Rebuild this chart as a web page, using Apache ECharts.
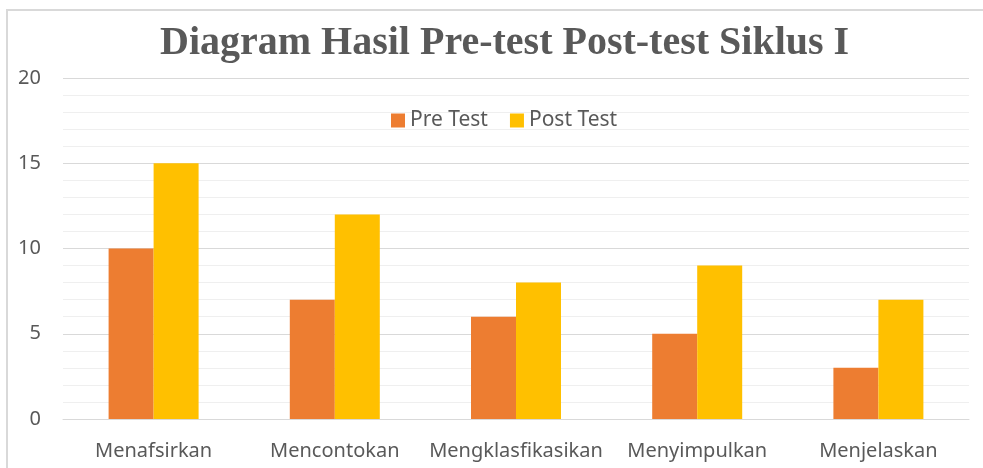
<!DOCTYPE html>
<html><head><meta charset="utf-8">
<script src="https://cdn.jsdelivr.net/npm/echarts@6/dist/echarts.min.js"></script>
<style>html,body{margin:0;padding:0;background:#fff}#c{width:983px;height:468px}</style>
</head><body><div id="c"></div>
<script>
const categories = ['Menafsirkan','Mencontokan','Mengklasfikasikan','Menyimpulkan','Menjelaskan'];
const preTest = [10, 7, 6, 5, 3];
const postTest = [15, 12, 8, 9, 7];
const seriesNames = ['Pre Test','Post Test'];
const yMin = 0, yMax = 20, yStep = 5;

const chart = echarts.init(document.getElementById('c'), null, {renderer:'canvas'});
chart.setOption({
  animation:false,
  backgroundColor:'#fff',
  graphic:[{type:'rect', shape:{x:7,y:10,width:1100,height:600}, style:{fill:'none', stroke:'#d9d9d9', lineWidth:2}, silent:true}],
  title:{text:'Diagram Hasil Pre-test Post-test Siklus I', left:155, top:19,
    textStyle:{fontFamily:'Liberation Serif', fontWeight:'bold', fontSize:40, color:'#595959'}},
  legend:{data:seriesNames, top:105, left:386, itemWidth:14, itemHeight:14, itemGap:22,
    icon:'rect', textStyle:{fontFamily:'Noto Sans', fontSize:21, color:'#595959'}},
  grid:{left:63, right:14, top:78, bottom:49, containLabel:false},
  xAxis:{type:'category', data:categories,
    axisLine:{lineStyle:{color:'#d9d9d9'}}, axisTick:{show:false},
    axisLabel:{interval:0, fontFamily:'Noto Sans', fontSize:20, color:'#595959', margin:22}},
  yAxis:{type:'value', min:yMin, max:yMax, interval:yStep,
    axisLine:{show:false}, axisTick:{show:false},
    axisLabel:{fontFamily:'Noto Sans', fontSize:20, color:'#595959', margin:22},
    splitLine:{lineStyle:{color:'#d9d9d9', width:1}},
    minorTick:{show:false, splitNumber:5},
    minorSplitLine:{show:true, lineStyle:{color:'#efefef', width:1}}},
  series:[
    {name:seriesNames[0], type:'bar', data:preTest, barWidth:45, barGap:'0%', itemStyle:{color:'#ed7d31'}},
    {name:seriesNames[1], type:'bar', data:postTest, barWidth:45, barGap:'0%', itemStyle:{color:'#ffc000'}}
  ]
});
</script></body></html>
